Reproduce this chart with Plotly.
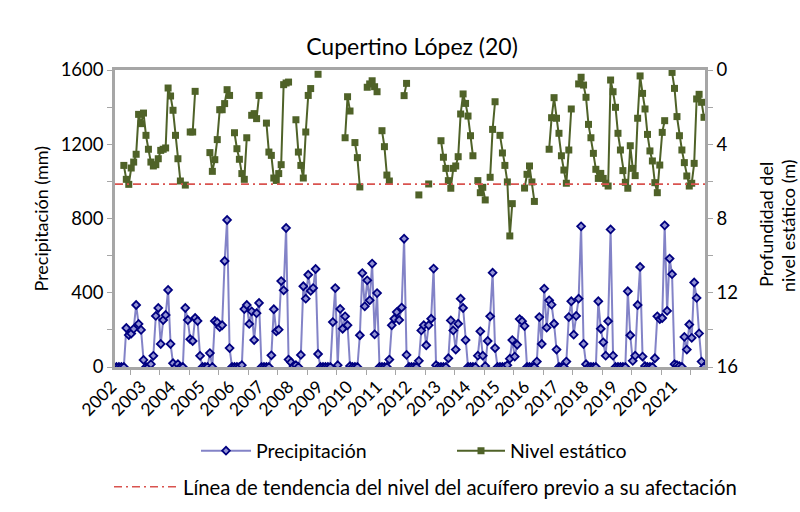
import plotly.graph_objects as go

# ---------------- data (monthly, Jan 2002 - Dec 2021) ----------------
years = [str(y) for y in range(2002, 2022)]

precip_mm = [
    0, 0, 0, 0, 210, 172, 180, 205, 334, 232, 200, 38,        # 2002
    0, 0, 15, 60, 275, 318, 124, 253, 280, 415, 124, 20,      # 2003
    0, 15, 0, 0, 318, 253, 150, 140, 264, 248, 60, 0,         # 2004
    0, 0, 75, 0, 248, 240, 215, 225, 571, 792, 102, 0,        # 2005
    0, 0, 0, 10, 312, 334, 232, 300, 145, 290, 345, 0,        # 2006
    0, 0, 0, 63, 311, 192, 201, 463, 413, 749, 40, 25,        # 2007
    5, 10, 0, 65, 435, 368, 497, 410, 425, 528, 70, 0,        # 2008
    0, 0, 0, 0, 242, 425, 10, 313, 206, 273, 225, 5,          # 2009
    0, 0, 0, 171, 506, 327, 467, 359, 557, 176, 398, 0,       # 2010
    0, 0, 0, 40, 225, 260, 296, 253, 320, 691, 65, 0,         # 2011
    0, 0, 0, 33, 197, 225, 117, 225, 260, 530, 10, 0,         # 2012
    0, 0, 0, 47, 251, 197, 94, 233, 368, 318, 145, 0,         # 2013
    0, 0, 0, 61, 192, 61, 5, 140, 273, 508, 102, 0,           # 2014
    0, 0, 0, 10, 45, 145, 56, 120, 258, 247, 221, 0,          # 2015
    0, 0, 0, 29, 269, 124, 422, 212, 359, 336, 233, 94,       # 2016
    0, 0, 0, 29, 269, 354, 174, 275, 368, 758, 124, 15,       # 2017
    0, 0, 0, 0, 354, 206, 133, 61, 247, 741, 61, 0,           # 2018
    0, 0, 0, 0, 408, 171, 33, 61, 334, 539, 56, 5,            # 2019
    0, 0, 0, 47, 273, 258, 264, 763, 302, 584, 500, 15,       # 2020
    10, 5, 0, 162, 94, 229, 157, 455, 372, 181, 29, 0,        # 2021
]

N = None
nivel_m = [
    N, N, N, 5.14, 5.89, 6.16, 5.28, 4.96, 4.54, 2.39, 2.89, 2.32,          # 2002
    3.52, 4.27, 4.96, 5.17, 5.10, 4.78, 4.33, 4.27, 4.20, 0.97, 1.40, 2.17,  # 2003
    3.52, 4.78, 5.98, N, 6.20, N, 3.34, 3.34, 1.15, N, N, N,                # 2004
    N, N, 4.45, 5.46, 4.83, 3.75, 2.14, 2.14, 1.81, 1.06, 1.37, N,          # 2005
    3.38, 4.24, 4.81, 5.58, 5.89, 3.65, N, 2.44, 2.35, 2.62, 1.37, N,       # 2006
    N, 2.86, 4.42, 4.60, 5.82, 5.95, 5.58, 5.10, 0.79, 0.70, 0.65, N,       # 2007
    N, 2.68, 4.42, 5.14, 5.82, 3.34, 1.37, 1.00, N, N, 0.23, N,             # 2008
    N, N, N, N, N, N, N, N, N, 3.65, 1.44, 2.21,                            # 2009
    N, 3.91, 4.72, 6.30, N, N, 0.93, 0.75, 0.58, 0.90, 1.17, N,             # 2010
    3.27, 4.13, 5.66, 5.98, N, N, N, N, N, 1.38, 0.72, N,                   # 2011
    N, N, N, 6.73, N, N, N, 6.14, N, N, N, N,                               # 2012
    3.81, 4.70, 5.30, 5.96, 6.37, 5.30, 5.17, 4.67, 2.37, 1.29, 1.80, 2.48,  # 2013
    3.54, 4.62, N, 5.96, 6.61, 6.32, 7.00, N, 5.78, 3.20, 1.71, N,          # 2014
    3.52, 4.47, 5.14, 6.03, 8.94, 7.20, N, N, N, N, 6.36, 5.62,             # 2015
    5.17, 6.03, 7.08, N, N, N, N, N, 4.27, 2.57, 1.49, 2.60,                # 2016
    3.41, 4.62, 5.39, 6.10, 4.31, 2.10, N, N, 0.75, 0.39, 0.81, 1.47,       # 2017
    2.93, 3.65, 4.49, 5.35, 5.84, 5.57, 5.84, 6.10, 6.25, 0.54, 1.17, 2.01,  # 2018
    3.41, 4.31, 5.42, 6.05, 6.37, 4.08, 5.30, 5.69, 2.60, 0.32, 1.26, 2.10,  # 2019
    3.47, 4.36, 4.90, 6.07, 6.61, 5.12, 3.36, 2.73, N, N, 0.13, 0.99,       # 2020
    2.51, 3.54, 4.31, 4.99, 5.71, 6.25, 6.10, 5.03, 1.56, 1.31, 1.74, 2.55,  # 2021
]

trend_depth_m = 6.15

# ---------------- figure ----------------
months = list(range(len(precip_mm)))
x_range = [-0.6, len(months) - 0.6]
FONT = "Lato, Calibri, Carlito, sans-serif"
AXIS_GRAY = "#a6a6a6"
LEG_FONT = 19.5

fig = go.Figure()

fig.add_trace(go.Scatter(
    x=months, y=precip_mm, name="Precipitación", mode="lines+markers",
    line=dict(color="rgba(100,100,185,0.8)", width=2),
    marker=dict(symbol="diamond", size=6, color="#9494d4",
                line=dict(color="#000080", width=1.8)),
    legend="legend", showlegend=True,
))

fig.add_trace(go.Scatter(
    x=months, y=nivel_m, name="Nivel estático", mode="lines+markers",
    yaxis="y2", connectgaps=False,
    line=dict(color="#4F6228", width=2),
    marker=dict(symbol="square", size=7, color="#4F6228"),
    legend="legend2", showlegend=True,
))

fig.add_trace(go.Scatter(
    x=x_range, y=[trend_depth_m, trend_depth_m], yaxis="y2",
    name="Línea de tendencia del nivel del acuífero previo a su afectación",
    mode="lines", line=dict(color="#D9534F", width=1.6, dash="8px,4px,2px,4px"),
    legend="legend3", showlegend=True,
))

label_vals = [12 * k for k in range(len(years))]
tick_marks = [12 * k + 5.5 for k in range(len(years))]

fig.update_layout(
    width=800, height=512, autosize=False, showlegend=True,
    paper_bgcolor="white", plot_bgcolor="white",
    margin=dict(l=115, r=95, t=70, b=145, autoexpand=False),
    font=dict(family=FONT, size=16, color="black"),
    title=dict(text="Cupertino López (20)", x=0.515, xanchor="center",
               y=1 - 47 / 512, yanchor="middle",
               font=dict(family=FONT, size=23, color="black")),
    xaxis=dict(
        range=x_range, tickmode="array", tickvals=label_vals, ticktext=years,
        tickangle=-45, ticks="", ticklen=3, ticklabelshift=-5,
        minor=dict(tickmode="array", tickvals=tick_marks, ticks="outside",
                   ticklen=5, tickcolor=AXIS_GRAY),
        showline=True, linecolor=AXIS_GRAY, linewidth=2.5, mirror=True,
        showgrid=False, zeroline=False, tickfont=dict(size=17.5),
    ),
    yaxis=dict(
        range=[0, 1600], tickmode="array", tickvals=[0, 400, 800, 1200, 1600],
        ticks="outside", ticklen=5, tickcolor=AXIS_GRAY,
        minor=dict(tickmode="array", tickvals=[200, 600, 1000, 1400],
                   ticks="outside", ticklen=5, tickcolor=AXIS_GRAY),
        showline=True, linecolor=AXIS_GRAY, linewidth=2.5,
        showgrid=False, zeroline=False, tickfont=dict(size=18.5),
    ),
    yaxis2=dict(
        range=[16, 0], overlaying="y", side="right",
        tickmode="array", tickvals=[0, 4, 8, 12, 16],
        ticks="outside", ticklen=5, tickcolor=AXIS_GRAY,
        minor=dict(tickmode="array", tickvals=[2, 6, 10, 14],
                   ticks="outside", ticklen=5, tickcolor=AXIS_GRAY),
        showline=True, linecolor=AXIS_GRAY, linewidth=2.5,
        showgrid=False, zeroline=False, tickfont=dict(size=18.5),
    ),
    legend=dict(orientation="h", x=(196 - 115) / 590, xanchor="left",
                y=-(451 - 367) / 297, yanchor="middle", itemwidth=50,
                font=dict(size=LEG_FONT), bgcolor="rgba(0,0,0,0)"),
    legend2=dict(orientation="h", x=(452 - 115) / 590, xanchor="left",
                 y=-(451 - 367) / 297, yanchor="middle", itemwidth=48,
                 font=dict(size=LEG_FONT), bgcolor="rgba(0,0,0,0)"),
    legend3=dict(orientation="h", x=(109 - 115) / 590, xanchor="left",
                 y=-(487 - 367) / 297, yanchor="middle", itemwidth=64,
                 font=dict(size=20.3), bgcolor="rgba(0,0,0,0)"),
    annotations=[
        dict(text="Precipitación (mm)", textangle=-90, xref="paper", yref="paper",
             x=(40 - 115) / 590, y=0.5, xanchor="center", yanchor="middle",
             showarrow=False, font=dict(size=18)),
        dict(text="Profundidad del", textangle=-90, xref="paper", yref="paper",
             x=(766 - 115) / 590, y=(367 - 225) / 297, xanchor="center", yanchor="middle",
             showarrow=False, font=dict(size=18)),
        dict(text="nivel estático (m)", textangle=-90, xref="paper", yref="paper",
             x=(788 - 115) / 590, y=(367 - 225) / 297, xanchor="center", yanchor="middle",
             showarrow=False, font=dict(size=18)),
    ],
)

fig.write_html("out.html", config={"displayModeBar": False},
               post_script="document.body.style.margin='0px';")
